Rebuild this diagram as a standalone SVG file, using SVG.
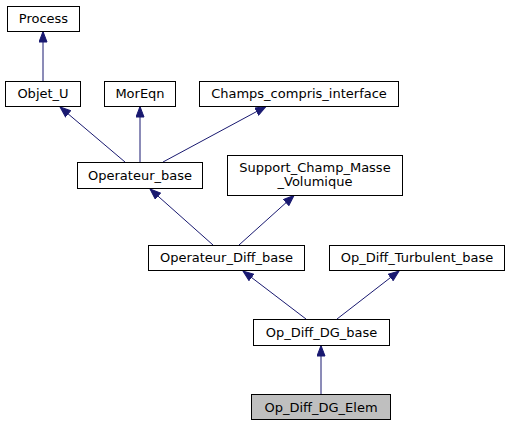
<svg xmlns="http://www.w3.org/2000/svg" width="511" height="425" viewBox="0 0 511 425">
<defs>
<marker id="arr" markerWidth="12" markerHeight="9" refX="11" refY="4.5" orient="auto" markerUnits="userSpaceOnUse">
<path d="M0.5,0.5 L11,4.5 L0.5,8.5 z" fill="#191970" stroke="#191970" stroke-width="1"/>
</marker>
<style>
.n rect{fill:#fff;stroke:#000;stroke-width:1}
.n text{font-family:"DejaVu Sans",sans-serif;font-size:13px;fill:#000;text-anchor:middle}
#edges line{stroke:#191970;stroke-width:1;marker-end:url(#arr)}
</style>
</defs>
<rect width="511" height="425" fill="#fff"/>
<g id="edges">
<line x1="43" y1="81" x2="43" y2="31.5"/>
<line x1="125" y1="162" x2="60" y2="107"/>
<line x1="140" y1="162" x2="140" y2="106.5"/>
<line x1="163" y1="162" x2="266" y2="106.5"/>
<line x1="213" y1="245" x2="150" y2="189"/>
<line x1="239" y1="245" x2="294" y2="195.5"/>
<line x1="306" y1="319" x2="243" y2="271"/>
<line x1="337" y1="319" x2="399" y2="271"/>
<line x1="321" y1="394" x2="321" y2="345.5"/>
</g>
<g id="Process" class="n"><rect x="7.5" y="6.5" width="72" height="25"/><text x="43.5" y="23">Process</text></g>
<g id="Objet_U" class="n"><rect x="5.5" y="81.5" width="75" height="25"/><text x="43" y="98">Objet_U</text></g>
<g id="MorEqn" class="n"><rect x="104.5" y="81.5" width="71" height="25"/><text x="140" y="98">MorEqn</text></g>
<g id="Champs_compris_interface" class="n"><rect x="199.5" y="81.5" width="199" height="25"/><text x="299" y="98">Champs_compris_interface</text></g>
<g id="Operateur_base" class="n"><rect x="77.5" y="162.5" width="125" height="26"/><text x="140" y="180">Operateur_base</text></g>
<g id="Support_Champ_Masse_Volumique" class="n"><rect x="227.5" y="155.5" width="175" height="40"/><text x="315" y="171.5">Support_Champ_Masse</text><text x="315" y="185.5">_Volumique</text></g>
<g id="Operateur_Diff_base" class="n"><rect x="148.5" y="245.5" width="156" height="25"/><text x="226.5" y="262">Operateur_Diff_base</text></g>
<g id="Op_Diff_Turbulent_base" class="n"><rect x="329.5" y="245.5" width="175" height="25"/><text x="417" y="262">Op_Diff_Turbulent_base</text></g>
<g id="Op_Diff_DG_base" class="n"><rect x="253.5" y="319.5" width="136" height="26"/><text x="321.5" y="337">Op_Diff_DG_base</text></g>
<g id="Op_Diff_DG_Elem" class="n"><rect x="251.5" y="394.5" width="139" height="25" style="fill:#bfbfbf"/><text x="321" y="411.5">Op_Diff_DG_Elem</text></g>
</svg>
